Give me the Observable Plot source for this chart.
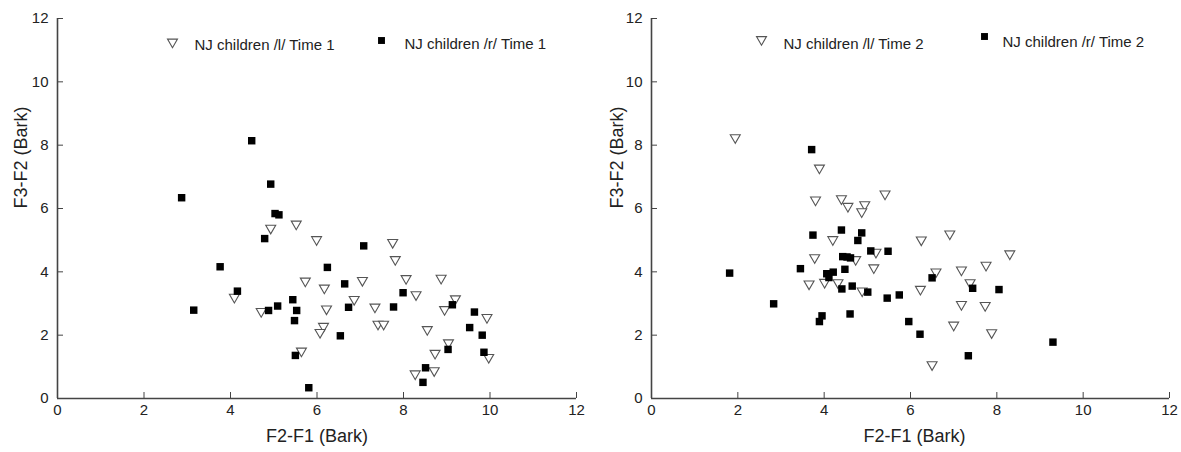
<!DOCTYPE html>
<html><head><meta charset="utf-8">
<script src="https://cdn.jsdelivr.net/npm/d3@7"></script>
<script src="https://cdn.jsdelivr.net/npm/@observablehq/plot@0.6"></script>
<style>
body{margin:0;background:#fff;width:1181px;height:452px;overflow:hidden;font-family:"Liberation Sans",Arial,sans-serif}
#wrap{display:flex;width:1181px}
</style></head><body><div id="wrap"><div id="p1"></div><div id="p2"></div></div>
<script>
const xTicks = [0, 2, 4, 6, 8, 10, 12];
const yTicks = [0, 2, 4, 6, 8, 10, 12];
const xTitle = "F2-F1 (Bark)";
const yTitle = "F3-F2 (Bark)";
const legend1 = ["NJ children /l/ Time 1", "NJ children /r/ Time 1"];
const legend2 = ["NJ children /l/ Time 2", "NJ children /r/ Time 2"];

// Time 1, /l/ (open triangles)
const t1lX = [5.52,4.93,5.99,7.75,7.81,5.73,7.05,8.06,8.87,6.17,4.09,8.29,9.20,6.86,7.34,6.22,4.71,8.95,9.93,7.41,7.54,6.15,6.07,8.55,9.04,5.64,8.73,9.97,8.27,8.71];
const t1lY = [5.51,5.38,5.02,4.93,4.39,3.71,3.73,3.79,3.80,3.49,3.20,3.28,3.15,3.13,2.89,2.83,2.75,2.81,2.56,2.35,2.35,2.28,2.09,2.18,1.76,1.50,1.43,1.30,0.78,0.88];
// Time 1, /r/ (filled squares)
const t1rX = [4.49,2.87,4.93,5.03,5.12,4.79,7.08,3.76,6.24,4.16,3.15,6.64,7.99,5.44,4.88,5.09,5.53,5.48,6.73,7.77,9.13,9.64,9.53,9.82,6.54,9.03,9.86,5.50,8.51,8.45,5.81];
const t1rY = [8.14,6.34,6.77,5.84,5.80,5.05,4.82,4.16,4.14,3.39,2.79,3.62,3.34,3.12,2.78,2.92,2.78,2.46,2.88,2.89,2.96,2.73,2.24,2.00,1.98,1.55,1.46,1.36,0.97,0.51,0.34];
// Time 2, /l/ (open triangles)
const t2lX = [1.94,3.89,3.80,4.40,4.55,4.94,4.87,5.41,4.20,6.25,6.91,3.78,4.73,5.20,5.15,8.30,7.75,7.18,6.59,3.65,4.01,4.32,6.23,7.38,4.88,7.18,7.73,7.00,7.88,6.50];
const t2lY = [8.24,7.28,6.27,6.31,6.07,6.12,5.90,6.46,5.02,5.01,5.20,4.45,4.39,4.62,4.13,4.57,4.21,4.06,4.00,3.62,3.67,3.66,3.45,3.66,3.40,2.97,2.94,2.32,2.08,1.07];
// Time 2, /r/ (filled squares)
const t2rX = [3.71,3.74,4.40,4.87,4.78,5.08,5.48,4.43,4.53,4.61,3.45,4.48,4.06,4.11,4.21,1.81,6.50,4.41,4.65,5.01,5.46,5.74,7.44,8.05,2.83,3.95,3.89,4.60,5.96,6.22,9.30,7.34];
const t2rY = [7.86,5.16,5.32,5.23,4.99,4.66,4.65,4.48,4.47,4.44,4.10,4.08,3.94,3.82,3.99,3.96,3.81,3.46,3.55,3.36,3.17,3.27,3.48,3.44,2.99,2.61,2.43,2.67,2.43,2.03,1.78,1.35];

const AX = "#444";
const TRI = {symbol: "triangle", rotate: 180, r: 3.7, fill: "white", stroke: "#555", strokeWidth: 1.1};
const SQ = {symbol: "square", r: 4.2, fill: "#000", stroke: "none"};

function panel(o) {
  const L = o.lx.map((x, i) => ({x, y: o.ly[i]}));
  const R = o.rx.map((x, i) => ({x, y: o.ry[i]}));
  return Plot.plot({
    width: o.width, height: 452,
    marginLeft: o.ml, marginRight: o.mr, marginTop: 18, marginBottom: 54,
    style: {fontFamily: "'Liberation Sans', Arial, sans-serif", fontSize: "15px", color: "#222", background: "#fff"},
    x: {domain: [0, 12], label: null},
    y: {domain: [0, 12], label: null},
    marks: [
      Plot.axisX({ticks: xTicks, tickSize: -6, tickPadding: 12, stroke: AX, fill: "#222", fontSize: 15, label: null}),
      Plot.axisY({ticks: yTicks, tickSize: -6, tickPadding: 15, stroke: AX, fill: "#222", fontSize: 15, label: null}),
      Plot.ruleY([0], {stroke: AX, strokeWidth: 1.6}),
      Plot.ruleX([0], {stroke: AX, strokeWidth: 1.6}),
      Plot.text([xTitle], {frameAnchor: "bottom", dx: o.xdx, dy: 43, fontSize: 18, fill: "#222"}),
      Plot.text([yTitle], {frameAnchor: "left", dx: o.ydx, rotate: -90, fontSize: 18, fill: "#222"}),
      Plot.dot(L, {x: "x", y: "y", ...TRI}),
      Plot.dot(R, {x: "x", y: "y", ...SQ}),
      // legend
      Plot.dot([0], {frameAnchor: "top-left", dx: o.leg[0], dy: o.leg[1], ...TRI}),
      Plot.text([o.names[0]], {frameAnchor: "top-left", dx: o.leg[2], dy: o.leg[3], textAnchor: "start", fontSize: 15, fill: "#222"}),
      Plot.dot([0], {frameAnchor: "top-left", dx: o.leg[4], dy: o.leg[5], ...SQ, r: 3.9}),
      Plot.text([o.names[1]], {frameAnchor: "top-left", dx: o.leg[6], dy: o.leg[7], textAnchor: "start", fontSize: 15, fill: "#222"})
    ]
  });
}

document.getElementById("p1").append(panel({
  lx: t1lX, ly: t1lY, rx: t1rX, ry: t1rY, names: legend1,
  width: 590, ml: 57, mr: 14, xdx: 0, ydx: -36,
  leg: [115, 23.5, 137, 20.5, 324, 22, 347, 20]
}));
document.getElementById("p2").append(panel({
  lx: t2lX, ly: t2lY, rx: t2rX, ry: t2rY, names: legend2,
  width: 591, ml: 61, mr: 12, xdx: 4, ydx: -34,
  leg: [110, 21, 132, 19.7, 333, 18, 351, 17.7]
}));
</script></body></html>
